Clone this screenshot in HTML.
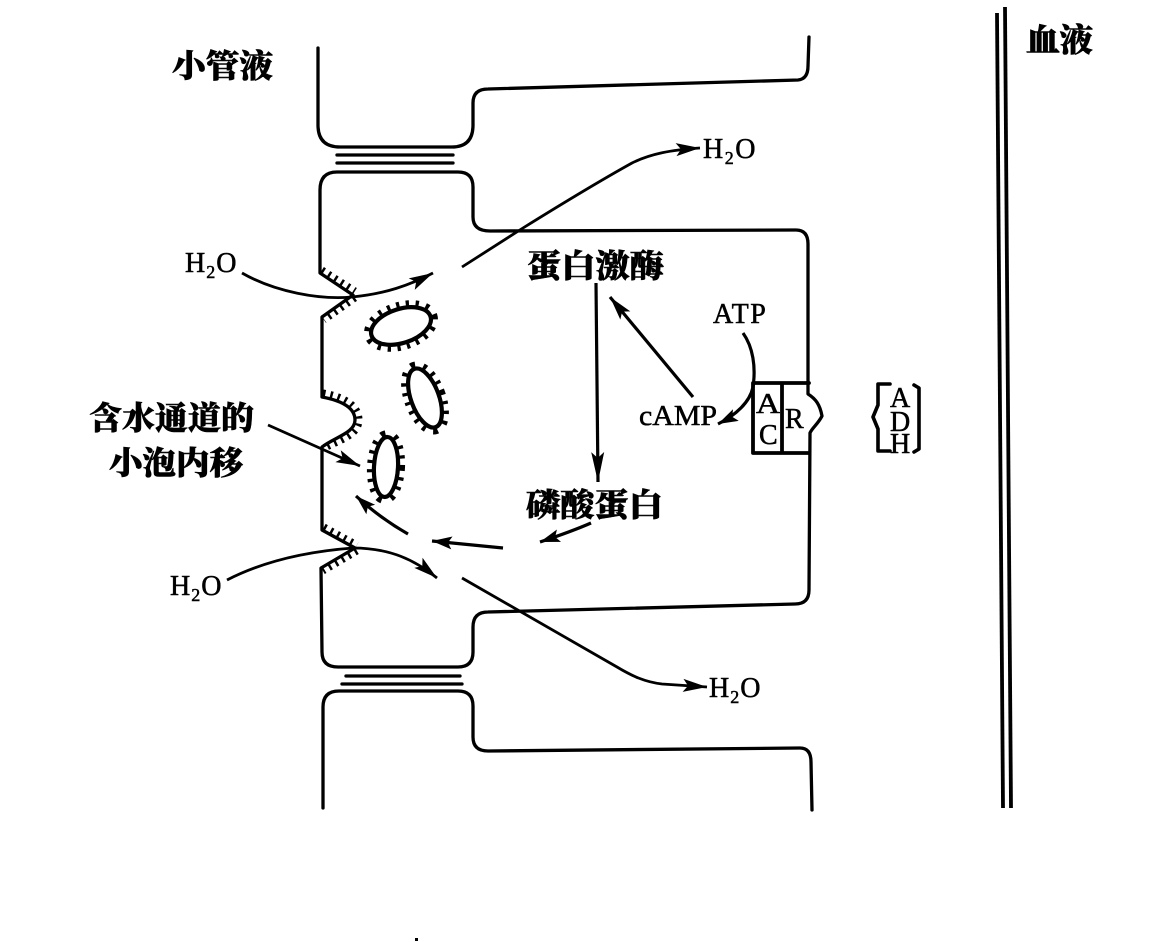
<!DOCTYPE html>
<html>
<head>
<meta charset="utf-8">
<style>
html,body{margin:0;padding:0;background:#fff;}
svg{display:block;}
.cj{font-family:"Liberation Serif","Noto Serif CJK SC","Noto Sans CJK SC",serif;font-weight:900;font-size:32px;fill:#000;stroke:#000;stroke-width:0.6;}
.lt{font-family:"Liberation Serif",serif;font-size:28px;fill:#000;stroke:#000;stroke-width:0.5;}
</style>
</head>
<body>
<svg width="1159" height="942" viewBox="0 0 1159 942" xmlns="http://www.w3.org/2000/svg">
<defs>
<marker id="a" markerUnits="userSpaceOnUse" markerWidth="30" markerHeight="16" refX="24" refY="7" orient="auto"><path d="M0,0.5 L24,7 L0,13.5 L5,7Z" fill="#000"/></marker>
<marker id="b" markerUnits="userSpaceOnUse" markerWidth="36" markerHeight="16" refX="30" refY="7" orient="auto"><path d="M0,0.5 L30,7 L0,13.5 L6,7Z" fill="#000"/></marker>
<marker id="c" markerUnits="userSpaceOnUse" markerWidth="26" markerHeight="16" refX="20" refY="7" orient="auto"><path d="M0,0.5 L20,7 L0,13.5 L4,7Z" fill="#000"/></marker>
</defs>
<rect width="1159" height="942" fill="#fff"/>

<!-- labels -->
<text class="cj" x="172" y="77" textLength="101" lengthAdjust="spacingAndGlyphs">小管液</text>
<text class="cj" x="1026" y="51" textLength="67" lengthAdjust="spacingAndGlyphs">血液</text>
<text class="cj" x="527" y="277" textLength="137" lengthAdjust="spacingAndGlyphs">蛋白激酶</text>
<text class="cj" x="526" y="516" textLength="137" lengthAdjust="spacingAndGlyphs">磷酸蛋白</text>
<text class="cj" x="89" y="429" textLength="165" lengthAdjust="spacingAndGlyphs">含水通道的</text>
<text class="cj" x="109" y="474" textLength="134" lengthAdjust="spacingAndGlyphs">小泡内移</text>

<!-- blood vessel double line -->
<line x1="997" y1="13" x2="1003" y2="808" stroke="#000" stroke-width="3.8"/>
<line x1="1005" y1="7" x2="1011" y2="808" stroke="#000" stroke-width="3.8"/>

<g fill="none" stroke="#000" stroke-width="3.3" stroke-linecap="round" stroke-linejoin="round">
<!-- upper cell -->
<path d="M318,48 L318,125 Q318,147 340,147 L452,147 Q473,147 473,125 L473,103 Q473,89 488,89 L798,80 Q808,79 808,66 L809,37"/>
<!-- tight junction upper -->
<path d="M337,155 L453,155 M337,163 L453,163"/>
<!-- main cell -->
<path d="M337,172 L458,172 Q473,172 473,187 L473,217 Q473,231 490,231 L796,230 Q808,230 808,244 L808,394 C816,399 820,405 822,416 C818,424 812,428 810,433 L809,590 Q809,604 795,604 L488,612 Q473,612 473,627 L473,652 Q473,667 458,667 L338,667 Q322,667 322,652 L321,568 L355,548 L322,530 L322,447 C335,437 355,433 355,420 C355,406 338,400 322,397 L322,317 L353,295 L320,273 L320,190 Q320,172 337,172 Z"/>
<!-- tight junction lower -->
<path d="M346,676 L460,676 M342,684 L462,684"/>
<!-- lower cell -->
<path d="M323,808 L323,707 Q323,691 339,691 L458,691 Q473,691 473,706 L473,737 Q473,751 488,751 L800,748 Q811,748 811,762 L812,810"/>
<!-- AC / R box -->
<path d="M809,383 L753,383 L753,453 L809,453 M782,383 L782,453" stroke-width="3.8"/>
<!-- ADH brackets -->
<path d="M890,384 L878,384 L878,405 L873,417 L878,429 L878,451 L890,451" stroke-width="3.6"/>
<path d="M914,385 L919,388 L919,449 L914,452" stroke-width="3.6"/>
</g>

<!-- membrane teeth (pointing into cell) -->
<g fill="none" stroke="#000" stroke-width="7" stroke-dasharray="2.5 5">
<path d="M322,270 L355,291"/>
<path d="M355,298 L324,320"/>
<path d="M323,393 C341,396 359,404 359,420 C359,436 337,441 323,449"/>
<path d="M324,527 L357,545"/>
<path d="M357,551 L323,571"/>
</g>

<!-- vesicles -->
<g stroke="#000">
<ellipse cx="401" cy="326" rx="31" ry="17" transform="rotate(-18 401 326)" fill="none" stroke-width="14" stroke-dasharray="3 6"/>
<ellipse cx="401" cy="326" rx="31" ry="17" transform="rotate(-18 401 326)" fill="#fff" stroke-width="4.2"/>
<ellipse cx="425" cy="398" rx="14" ry="31" transform="rotate(-20 425 398)" fill="none" stroke-width="14" stroke-dasharray="3 6"/>
<ellipse cx="425" cy="398" rx="14" ry="31" transform="rotate(-20 425 398)" fill="#fff" stroke-width="4.2"/>
<ellipse cx="386" cy="467" rx="12" ry="30" transform="rotate(3 386 467)" fill="none" stroke-width="14" stroke-dasharray="3 6"/>
<ellipse cx="386" cy="467" rx="12" ry="30" transform="rotate(3 386 467)" fill="#fff" stroke-width="4.2"/>
</g>

<!-- arrows -->
<g fill="none" stroke="#000" stroke-width="2.8">
<path d="M242,273 C275,292 320,300 352,297 C385,294 410,285 433,273" marker-end="url(#a)"/>
<path d="M462,267 L523,228 C560,205 605,178 632,163 C650,154 670,150 700,148" marker-end="url(#a)"/>
<path d="M227,580 C260,563 300,552 353,548 C390,548 415,560 437,578" marker-end="url(#a)"/>
<path d="M462,578 L617,667 C632,676 645,682 662,684 L707,687" marker-end="url(#a)"/>
<path d="M268,425 L360,466" marker-end="url(#a)"/>
<path d="M596,283 L598,482" stroke-width="3.2" marker-end="url(#b)"/>
<path d="M693,397 L610,297" stroke-width="3.2" marker-end="url(#a)"/>
<path d="M743,333 C753,347 756,367 753,387 C750,402 736,415 718,424" stroke-width="3.2" marker-end="url(#c)"/>
<path d="M591,523 C575,530 558,536 540,542" stroke-width="3.2" marker-end="url(#c)"/>
<path d="M503,548 L432,541" stroke-width="3.2" marker-end="url(#c)"/>
<path d="M408,534 Q380,518 356,496" stroke-width="3.2" marker-end="url(#c)"/>
</g>

<!-- Latin labels -->
<text class="lt" x="185" y="272" letter-spacing="1">H<tspan font-size="18" dy="6">2</tspan><tspan dy="-6">O</tspan></text>
<text class="lt" x="703" y="158" letter-spacing="1.5">H<tspan font-size="18" dy="6">2</tspan><tspan dy="-6">O</tspan></text>
<text class="lt" x="170" y="595" letter-spacing="1">H<tspan font-size="18" dy="6">2</tspan><tspan dy="-6">O</tspan></text>
<text class="lt" x="709" y="697" letter-spacing="1">H<tspan font-size="18" dy="6">2</tspan><tspan dy="-6">O</tspan></text>
<text class="lt" x="713" y="323" letter-spacing="1.5">ATP</text>
<text class="lt" x="639" y="425" font-size="29" textLength="78" lengthAdjust="spacingAndGlyphs">cAMP</text>
<text class="lt" x="756" y="413" font-size="29" textLength="24" lengthAdjust="spacingAndGlyphs">A</text>
<text class="lt" x="759" y="444" font-size="26">C</text>
<text class="lt" x="785" y="428" font-size="28">R</text>
<text class="lt" x="890" y="407" font-size="27">A</text>
<text class="lt" x="890" y="431" font-size="27">D</text>
<text class="lt" x="890" y="453" font-size="27">H</text>

<rect x="415" y="938" width="3" height="3" fill="#000"/>
</svg>
</body>
</html>
